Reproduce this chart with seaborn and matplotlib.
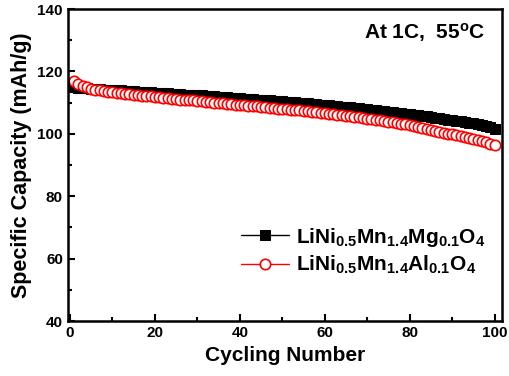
import matplotlib
matplotlib.use("Agg")
import matplotlib.pyplot as plt
import seaborn as sns

# Cycle numbers and discharge capacities (mAh/g)
cycles = list(range(1, 101))
mg_capacity = [
    115.0, 114.8, 114.7, 114.6, 114.5, 114.4, 114.3, 114.2, 114.1, 114.0,
    113.9, 113.9, 113.8, 113.7, 113.6, 113.5, 113.5, 113.4, 113.3, 113.2,
    113.1, 113.0, 113.0, 112.9, 112.8, 112.7, 112.6, 112.5, 112.5, 112.4,
    112.3, 112.2, 112.1, 112.0, 111.9, 111.8, 111.7, 111.6, 111.5, 111.4,
    111.3, 111.2, 111.1, 111.0, 110.9, 110.8, 110.7, 110.6, 110.5, 110.4,
    110.3, 110.2, 110.1, 110.0, 109.9, 109.8, 109.6, 109.5, 109.4, 109.3,
    109.1, 109.0, 108.9, 108.7, 108.6, 108.5, 108.3, 108.2, 108.0, 107.9,
    107.7, 107.6, 107.4, 107.3, 107.1, 107.0, 106.8, 106.6, 106.5, 106.3,
    106.1, 105.9, 105.8, 105.6, 105.4, 105.2, 105.0, 104.8, 104.6, 104.4,
    104.2, 104.0, 103.8, 103.6, 103.4, 103.2, 102.9, 102.6, 102.2, 101.7,
]
al_capacity = [
    116.8, 116.0, 115.4, 114.9, 114.5, 114.2, 113.9, 113.7, 113.5, 113.3,
    113.1, 113.0, 112.8, 112.7, 112.5, 112.4, 112.2, 112.1, 112.0, 111.8,
    111.7, 111.6, 111.4, 111.3, 111.2, 111.0, 110.9, 110.8, 110.7, 110.5,
    110.4, 110.3, 110.2, 110.0, 109.9, 109.8, 109.7, 109.5, 109.4, 109.3,
    109.2, 109.0, 108.9, 108.8, 108.7, 108.5, 108.4, 108.3, 108.1, 108.0,
    107.9, 107.7, 107.6, 107.5, 107.3, 107.2, 107.0, 106.9, 106.7, 106.6,
    106.4, 106.3, 106.1, 106.0, 105.8, 105.6, 105.5, 105.3, 105.1, 104.9,
    104.7, 104.5, 104.3, 104.1, 103.9, 103.7, 103.5, 103.2, 103.0, 102.7,
    102.5, 102.2, 101.9, 101.6, 101.3, 101.0, 100.7, 100.4, 100.1, 99.8,
    99.5, 99.2, 98.9, 98.6, 98.3, 98.0, 97.7, 97.3, 96.9, 96.3,
]
mg_label = r'$\mathbf{LiNi_{0.5}Mn_{1.4}Mg_{0.1}O_4}$'
al_label = r'$\mathbf{LiNi_{0.5}Mn_{1.4}Al_{0.1}O_4}$'

sns.set_style("ticks")
plt.rcParams['font.family'] = ['Liberation Sans', 'DejaVu Sans']
plt.rcParams['mathtext.fontset'] = 'custom'
plt.rcParams['mathtext.rm'] = 'Liberation Sans'
plt.rcParams['mathtext.bf'] = 'Liberation Sans:bold'
plt.rcParams['mathtext.it'] = 'Liberation Sans:italic'
plt.rcParams['text.color'] = 'black'
plt.rcParams['axes.labelcolor'] = 'black'
plt.rcParams['xtick.color'] = 'black'
plt.rcParams['ytick.color'] = 'black'
plt.rcParams['axes.edgecolor'] = 'black'

fig = plt.figure(figsize=(5.10, 3.76), dpi=100)
ax = fig.add_axes([0.133, 0.146, 0.851, 0.830])

sns.lineplot(x=cycles, y=mg_capacity, ax=ax, color='black', lw=1,
             marker='s', markersize=6.5, markeredgecolor='black',
             markerfacecolor='black', label=mg_label)
sns.lineplot(x=cycles, y=al_capacity, ax=ax, color='red', lw=1,
             marker='o', markersize=7.5, markeredgecolor='red',
             markerfacecolor='white', markeredgewidth=1.2, label=al_label)

ax.set_xlim(-0.5, 101.7)
ax.set_ylim(40, 140)
ax.set_xticks(range(0, 101, 20))
ax.set_xticks(range(10, 101, 20), minor=True)
ax.set_yticks(range(40, 141, 20))
ax.set_yticks(range(50, 141, 20), minor=True)
ax.tick_params(which='both', direction='in', width=1.5, labelsize=11)
ax.tick_params(which='major', length=5)
ax.tick_params(which='minor', length=3)
for lbl in ax.get_xticklabels() + ax.get_yticklabels():
    lbl.set_fontweight('bold')
for sp in ax.spines.values():
    sp.set_linewidth(1.8)

ax.set_xlabel('Cycling Number', fontsize=15, fontweight='bold', labelpad=4)
ax.set_ylabel('Specific Capacity (mAh/g)', fontsize=15.5, fontweight='bold',
              labelpad=4)

ax.text(0.961, 0.925, r'At 1C,  55$^{\mathbf{o}}$C', transform=ax.transAxes,
        ha='right', va='center', fontsize=15, fontweight='bold')

ax.legend(loc='center right', bbox_to_anchor=(0.995, 0.225), frameon=False,
          fontsize=15, handlelength=2.3, handletextpad=0.3, labelspacing=0.25,
          borderpad=0.2)

fig.savefig('out.png', dpi=100, facecolor='white')
